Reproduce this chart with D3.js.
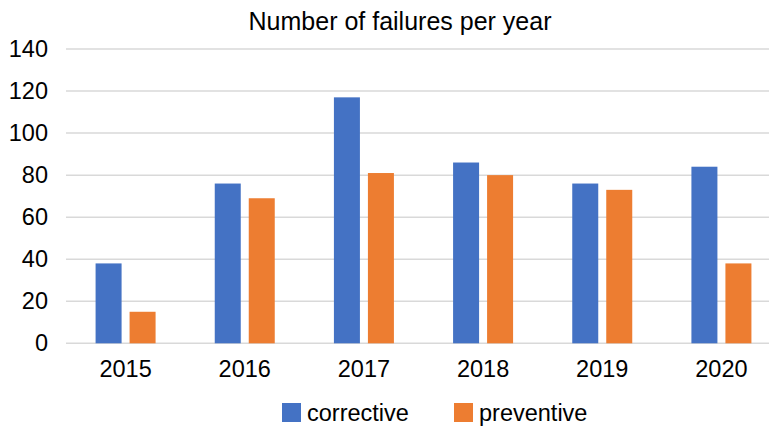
<!DOCTYPE html>
<html>
<head>
<meta charset="utf-8">
<script src="https://cdn.jsdelivr.net/npm/d3@7"></script>
<style>
  html, body { margin: 0; padding: 0; background: #fff; }
  svg { display: block; }
  text { font-family: Arial, "Liberation Sans", sans-serif; fill: #000; }
</style>
</head>
<body>
<svg id="chart" width="769" height="428"></svg>
<script>
const years = ["2015", "2016", "2017", "2018", "2019", "2020"];
const seriesNames = ["corrective", "preventive"];
const corrective = [38, 76, 117, 86, 76, 84];
const preventive = [15, 69, 81, 80, 73, 38];
const yTicks = [0, 20, 40, 60, 80, 100, 120, 140];
const colors = ["#4472C4", "#ED7D31"];
const title = "Number of failures per year";

const svg = d3.select("#chart");
const values = [corrective, preventive];

const x = d3.scaleBand().domain(years).range([66, 781]).paddingInner(0).paddingOuter(0);
const xs = d3.scaleBand().domain(seriesNames).range([-30, 30]).paddingInner(8 / 34).paddingOuter(0);
const y = d3.scaleLinear().domain([0, 140]).range([343.3, 49]);

// gridlines
svg.append("g").selectAll("line").data(yTicks).join("line")
  .attr("x1", 66).attr("x2", 769)
  .attr("y1", d => y(d)).attr("y2", d => y(d))
  .attr("stroke", "#d9d9d9").attr("stroke-width", 1.5);

// y labels
const yAxis = d3.axisLeft(y).tickValues(yTicks).tickSize(0).tickPadding(0);
const yg = svg.append("g").attr("transform", "translate(48,0)").call(yAxis);
yg.select(".domain").remove();
yg.selectAll("text").attr("font-size", 23.5).attr("font-family", "Arial, 'Liberation Sans', sans-serif").attr("fill", "#000");

// bars
const data = [];
years.forEach((yr, i) => seriesNames.forEach((s, j) => data.push({ yr, s, v: values[j][i], c: colors[j] })));
svg.append("g").selectAll("rect").data(data).join("rect")
  .attr("x", d => x(d.yr) + x.bandwidth() / 2 + xs(d.s))
  .attr("width", xs.bandwidth())
  .attr("y", d => y(d.v))
  .attr("height", d => y(0) - y(d.v))
  .attr("fill", d => d.c);

// x labels
const xAxis = d3.axisBottom(x).tickSize(0).tickPadding(0);
const xg = svg.append("g").attr("transform", "translate(0,360)").call(xAxis);
xg.select(".domain").remove();
xg.selectAll("text").attr("font-size", 23.5).attr("font-family", "Arial, 'Liberation Sans', sans-serif").attr("fill", "#000").attr("dy", "0.71em");

// title
svg.append("text").attr("x", 400).attr("y", 30).attr("text-anchor", "middle")
  .attr("font-size", 25).text(title);

// legend
const legendX = [282, 454];
const lg = svg.append("g").selectAll("g").data(seriesNames).join("g")
  .attr("transform", (d, i) => `translate(${legendX[i]},403)`);
lg.append("rect").attr("width", 19).attr("height", 19).attr("fill", (d, i) => colors[i]);
lg.append("text").attr("x", 25).attr("y", 18).attr("font-size", 23.5).text(d => d);
</script>
</body>
</html>
